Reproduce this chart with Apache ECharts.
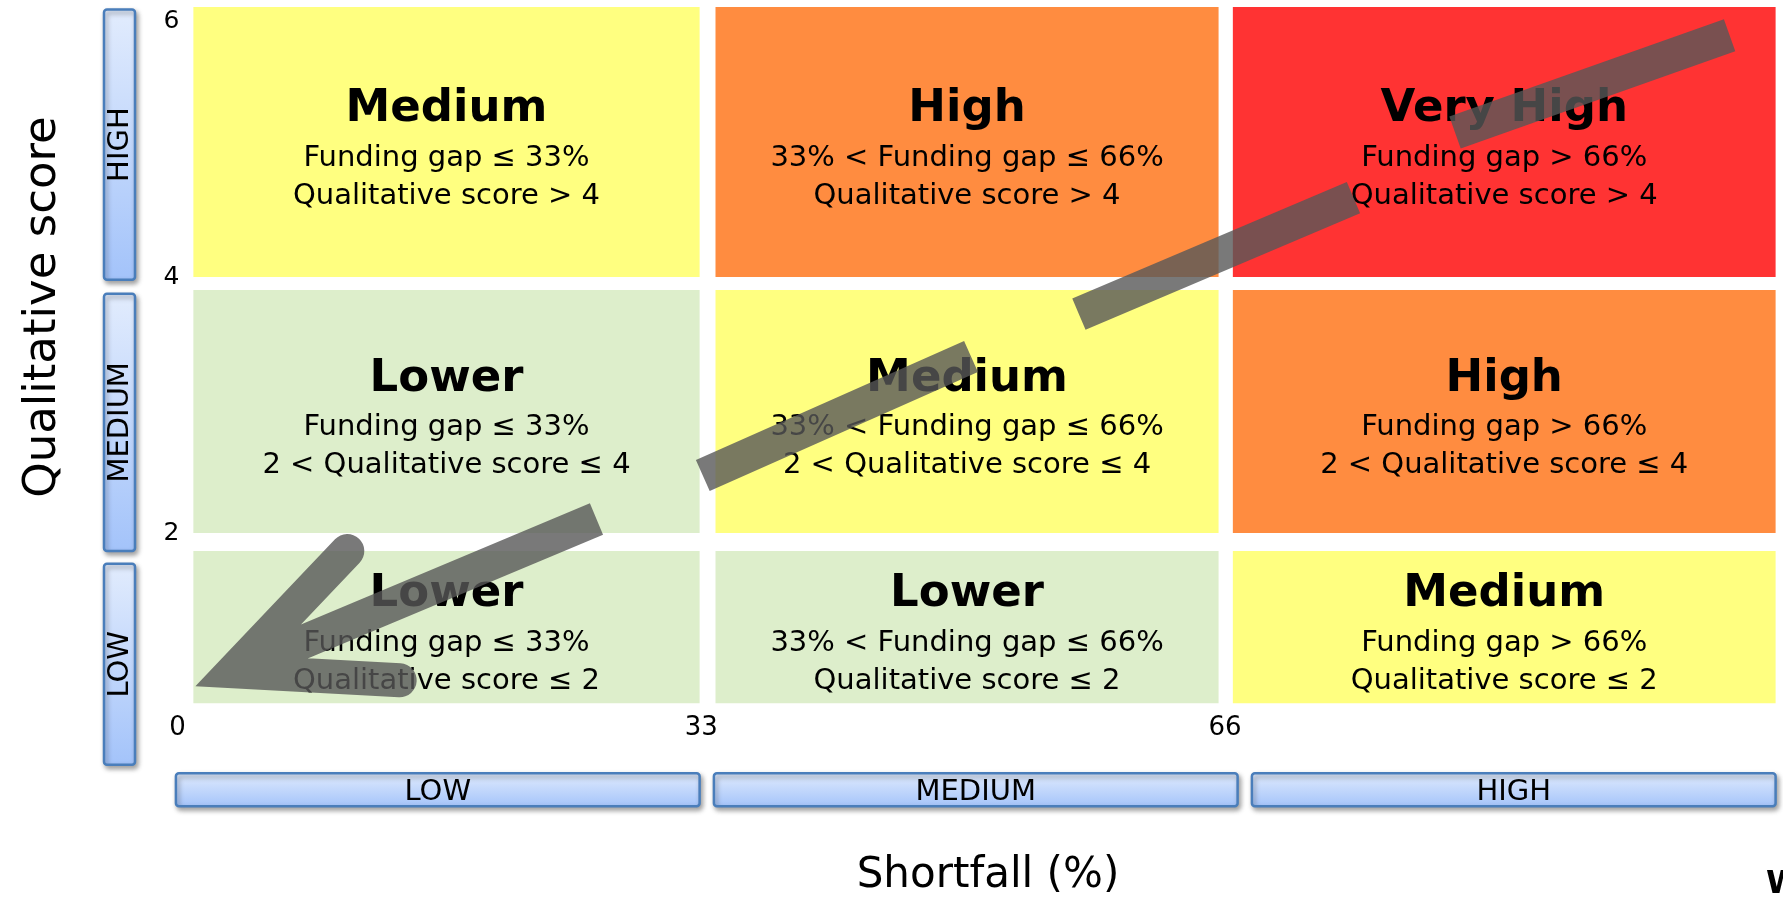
<!DOCTYPE html>
<html><head><meta charset="utf-8">
<script src="https://cdn.jsdelivr.net/npm/echarts@6/dist/echarts.min.js"></script>
<style>html,body{margin:0;padding:0;background:#fff;} #c{width:1783px;height:899px;}</style>
</head><body><div id="c"></div>
<script>
const FONT = '"DejaVu Sans", sans-serif';

// ---- data ----
const levels = ['LOW', 'MEDIUM', 'HIGH'];
const xTicks = [0, 33, 66];
const yTicks = [2, 4, 6];
const gapText = ['Funding gap ≤ 33%', '33% < Funding gap ≤ 66%', 'Funding gap > 66%'];
const scoreText = ['Qualitative score ≤ 2', '2 < Qualitative score ≤ 4', 'Qualitative score > 4'];
// rows: qualitative LOW→HIGH, cols: shortfall LOW→HIGH
const risk = [
  ['Lower', 'Lower', 'Medium'],
  ['Lower', 'Medium', 'High'],
  ['Medium', 'High', 'Very High']
];
const riskColors = { 'Lower': '#DDEECB', 'Medium': '#FFFF80', 'High': '#FF8C40', 'Very High': '#FF3333' };
// cell extents (axis units)
const colStart = [1.0, 33.9, 66.5];
const colEnd = [32.9, 65.6, 100.7];
const rowStart = [0.67, 2.0, 4.0];
const rowEnd = [1.86, 3.9, 6.11];
// level band extents (axis units)
const xBandStart = [-0.1, 33.8, 67.7];
const xBandEnd = [32.9, 66.8, 100.7];
const yBandStart = [0.19, 1.86, 3.98];
const yBandEnd = [1.76, 3.87, 6.09];
// trend arrow (axis units)
const arrowDashes = [
  [[97.8, 5.89], [80.5, 5.13]],
  [[74.1, 4.62], [56.8, 3.71]],
  [[50.0, 3.38], [33.1, 2.45]],
  [[26.4, 2.11], [3.5, 0.92]]
];
const arrowHead = [[10.7, 1.86], [3.5, 0.92], [14.0, 0.85]];

// ---- build ----
const cellData = [];
for (let r = 0; r < 3; r++) for (let c = 0; c < 3; c++) cellData.push([c, r]);
const bandData = [];
for (let i = 0; i < 3; i++) { bandData.push([0, i]); bandData.push([1, i]); }

function renderCell(params, api) {
  const c = api.value(0), r = api.value(1);
  const p0 = api.coord([colStart[c], rowEnd[r]]);
  const p1 = api.coord([colEnd[c], rowStart[r]]);
  const lvl = risk[r][c];
  const cx = (p0[0] + p1[0]) / 2, cy = (p0[1] + p1[1]) / 2;
  return {
    type: 'group', children: [
      { type: 'rect', shape: { x: p0[0], y: p0[1], width: p1[0] - p0[0], height: p1[1] - p0[1] },
        style: { fill: riskColors[lvl] } },
      { type: 'text', x: cx, y: cy + 5.5, style: {
          text: '{t|' + lvl + '}\n{s|' + gapText[c] + '}\n{s|' + scoreText[r] + '}',
          align: 'center', verticalAlign: 'middle',
          rich: {
            t: { fontFamily: FONT, fontWeight: 'bold', fontSize: 45, lineHeight: 59, fill: '#000', align: 'center' },
            s: { fontFamily: FONT, fontSize: 29, lineHeight: 38, fill: '#000', align: 'center' }
          } } }
    ]
  };
}

function renderBand(params, api) {
  const dir = api.value(0), i = api.value(1);
  const cs = params.coordSys;
  let x, y, w, h, rot = 0;
  if (dir === 0) {
    const a = api.coord([xBandStart[i], 2])[0], b = api.coord([xBandEnd[i], 2])[0];
    x = a; w = b - a; y = cs.y + cs.height + 66; h = 33;
  } else {
    const a = api.coord([0, yBandEnd[i]])[1], b = api.coord([0, yBandStart[i]])[1];
    y = a; h = b - a; x = cs.x - 73.5; w = 31; rot = Math.PI / 2;
  }
  return {
    type: 'group', children: [
      { type: 'rect', shape: { x: x, y: y, width: w, height: h, r: 3 },
        style: {
          fill: new echarts.graphic.LinearGradient(0, 0, 0, 1, [
            { offset: 0, color: '#E2ECFD' }, { offset: 1, color: '#A3C3FA' }]),
          stroke: '#4A7EBB', lineWidth: 2.5,
          shadowBlur: 5, shadowColor: 'rgba(0,0,0,0.35)', shadowOffsetX: 2, shadowOffsetY: 3
        } },
      { type: 'text', x: x + w / 2 + (dir === 0 ? 0 : 1), y: y + h / 2 + (dir === 0 ? 2.5 : 0), rotation: rot,
        style: { text: levels[i], fontFamily: FONT, fontSize: 29, fill: '#000', align: 'center', verticalAlign: 'middle' } }
    ]
  };
}

function renderArrow(params, api) {
  let d = '';
  // closed back-and-forth subpaths give flat (bevelled) ends
  arrowDashes.forEach(function (seg) {
    const a = api.coord(seg[0]), b = api.coord(seg[1]);
    d += 'M' + a[0] + ' ' + a[1] + 'L' + b[0] + ' ' + b[1] + 'Z';
  });
  // open chevron gives round ends and a sharp tip
  const h = arrowHead.map(function (p) { return api.coord(p); });
  d += 'M' + h[0][0] + ' ' + h[0][1] + 'L' + h[1][0] + ' ' + h[1][1] + 'L' + h[2][0] + ' ' + h[2][1];
  return { type: 'path', shape: { pathData: d },
    style: { fill: 'none', stroke: 'rgba(87,87,87,0.8)', lineWidth: 34, lineCap: 'round', lineJoin: 'miter', miterLimit: 10 } };
}

const chart = echarts.init(document.getElementById('c'), null, { renderer: 'canvas' });
chart.setOption({
  backgroundColor: '#fff',
  animation: false,
  grid: { left: 177.5, right: 18.5, top: 7, bottom: 191.84, containLabel: false, outerBoundsMode: 'none' },
  xAxis: {
    type: 'value', min: 0, max: 100,
    axisLine: { show: false }, axisTick: { show: false }, splitLine: { show: false },
    axisLabel: { customValues: xTicks, margin: 8, color: '#000', fontSize: 26, fontFamily: FONT },
    name: 'Shortfall (%)', nameLocation: 'middle', nameGap: 148,
    nameTextStyle: { fontSize: 42, color: '#000', fontFamily: FONT, padding: [0, 0, 0, 34] }
  },
  yAxis: {
    type: 'value', min: 0.64, max: 6.11,
    axisLine: { show: false }, axisTick: { show: false }, splitLine: { show: false },
    axisLabel: { customValues: yTicks, margin: -2, color: '#000', fontSize: 25, fontFamily: FONT },
    name: 'Qualitative score', nameLocation: 'middle', nameGap: 112,
    nameTextStyle: { fontSize: 45, color: '#000', fontFamily: FONT, padding: [0, 0, 0, 100] }
  },
  graphic: [
    { type: 'text', left: 1766, top: 869, style: { text: 'W', fontSize: 32, fontWeight: 'bold', fill: '#000', fontFamily: FONT } }
  ],
  series: [
    { type: 'custom', name: 'cells', renderItem: renderCell, data: cellData, clip: false, z: 1, silent: true },
    { type: 'custom', name: 'bands', renderItem: renderBand, data: bandData, clip: false, z: 2, silent: true },
    { type: 'custom', name: 'arrow', renderItem: renderArrow, data: [[0, 0]], clip: false, z: 5, silent: true }
  ]
});
</script>
</body></html>
